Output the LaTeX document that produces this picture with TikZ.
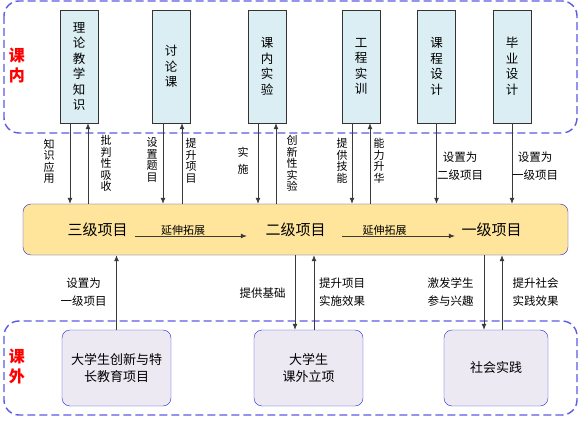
\documentclass[tikz,border=0pt]{standalone}
\usepackage{fontspec}
\setmainfont{Noto Sans CJK SC}
\usetikzlibrary{arrows.meta}
\definecolor{dashblue}{HTML}{5B5BE3}
\definecolor{edgeblue}{HTML}{2B2BD0}
\definecolor{boxcyan}{HTML}{DAEEF3}
\definecolor{bandgold}{HTML}{FEE59B}
\definecolor{boxlav}{HTML}{ECE9F3}
\definecolor{linkgray}{HTML}{3A3A3A}

\begin{document}
\begin{tikzpicture}[x=1pt,y=-1pt,>={Latex[length=6pt,width=5pt]},
  region/.style={draw=dashblue,line width=1.4pt,dash pattern=on 8pt off 4pt,rounded corners=15pt},
  topbox/.style={draw=black!80,fill=boxcyan,minimum width=38pt,minimum height=113pt,
    inner sep=0pt,align=center,font=\fontsize{12.5}{15.5}\selectfont},
  botbox/.style={draw=edgeblue,fill=boxlav,rounded corners=8pt,minimum width=109pt,
    minimum height=76pt,inner sep=0pt,align=center,font=\fontsize{13}{17}\selectfont},
  level/.style={inner sep=0pt,font=\fontsize{15}{18}\selectfont},
  vlab/.style={inner sep=0pt,align=center,font=\fontsize{11}{11.5}\selectfont},
  hlab/.style={inner sep=0pt,align=center,font=\fontsize{11.5}{18}\selectfont},
  side/.style={inner sep=0pt,align=center,text=red,font=\fontsize{16}{20}\selectfont\bfseries},
  link/.style={draw=linkgray,line width=0.8pt}]
  \useasboundingbox (0,0) rectangle (585,427);

  % dashed regions
  \draw[region] (4,1) rectangle (577,133);
  \draw[region] (4,321) rectangle (577,415);
  \node[side] (kn) at (17,65) {课\\内};
  \node[side] (kw) at (17,366.5) {课\\外};

  % course boxes
  \node[topbox] (llzs) at (79,66.5) {理\\论\\教\\学\\知\\识};
  \node[topbox] (tlk) at (171,66.5) {讨\\论\\课};
  \node[topbox] (knsy) at (267,66.5) {课\\内\\实\\验};
  \node[topbox] (gcsx) at (361,66.5) {工\\程\\实\\训};
  \node[topbox] (kcsj) at (436.5,66.5) {课\\程\\设\\计};
  \node[topbox] (bysj) at (512,66.5) {毕\\业\\设\\计};

  % project band
  \node[draw=edgeblue,fill=bandgold,rounded corners=8pt,minimum width=545pt,
    minimum height=51pt] (band) at (295.5,229.5) {};
  \node[level] (sanji) at (97.5,230) {三级项目};
  \node[level] (erji) at (295.5,230) {二级项目};
  \node[level] (yiji) at (491.5,230) {一级项目};
  \draw[link,->] ([xshift=7.5pt,yshift=-6pt]sanji.east)
    -- ([xshift=-18.5pt,yshift=-6pt]erji.west);
  \draw[link,->] ([xshift=16.5pt,yshift=-6pt]erji.east)
    -- ([xshift=-6.5pt,yshift=-6pt]yiji.west);
  \node[vlab] (ys1) at (183,230.5) {延伸拓展};
  \node[vlab] (ys2) at (384.5,230.5) {延伸拓展};

  % links from the course boxes
  \foreach \b/\dl/\ul in {llzs/-9/9,tlk/-8/11,knsy/-9/9,gcsx/-9/9}{
    \draw[link,->] ([xshift=\dl pt]\b.south) -- ([xshift=\dl pt]\b.south |- band.north);
    \draw[link,->] ([xshift=\ul pt]\b.south |- band.north) -- ([xshift=\ul pt]\b.south);
  }
  \foreach \b in {kcsj,bysj}{
    \draw[link,->] (\b.south) -- (\b.south |- band.north);
  }
  \node[vlab] (zsyy) at (49,161.5) {知\\识\\应\\用};
  \node[vlab] (ppxs) at (106,163.5) {批\\判\\性\\吸\\收};
  \node[vlab] (szmt) at (152,160) {设\\置\\题\\目};
  \node[vlab] (tsxm) at (191,161) {提\\升\\项\\目};
  \node[vlab] (ss) at (243,161) {实\\[5pt]施};
  \node[vlab] (cxsy) at (292,163.5) {创\\新\\性\\实\\验};
  \node[vlab] (tgjn) at (342,161) {提\\供\\技\\能};
  \node[vlab] (nlsh) at (379,161) {能\\力\\升\\华};
  \node[hlab] (szej) at (460,166) {设置为\\二级项目};
  \node[hlab] (szyj) at (535,166) {设置为\\一级项目};

  % extracurricular boxes
  \node[botbox] (dcx) at (116.5,368) {大学生创新与特\\长教育项目};
  \node[botbox] (kwlx) at (308.5,368) {大学生\\课外立项};
  \node[botbox,minimum width=104pt] (shsj) at (496,368) {社会实践};

  % links from the extracurricular boxes
  \draw[link,->] (dcx.north) -- (dcx.north |- band.south);
  \draw[link,->] ([xshift=-13.5pt]kwlx.north |- band.south) -- ([xshift=-13.5pt]kwlx.north);
  \draw[link,->] ([xshift=5.5pt]kwlx.north) -- ([xshift=5.5pt]kwlx.north |- band.south);
  \draw[link,->] ([xshift=-12pt]shsj.north |- band.south) -- ([xshift=-12pt]shsj.north);
  \draw[link,->] ([xshift=6pt]shsj.north) -- ([xshift=6pt]shsj.north |- band.south);
  \node[hlab] (szyj2) at (83.5,292) {设置为\\一级项目};
  \node[hlab] (tgjc) at (262.5,293) {提供基础};
  \node[hlab] (tsss) at (342,292) {提升项目\\实施效果};
  \node[hlab] (jfxs) at (450.5,292) {激发学生\\参与兴趣};
  \node[hlab] (tssh) at (535.5,292) {提升社会\\实践效果};
\end{tikzpicture}
\end{document}
